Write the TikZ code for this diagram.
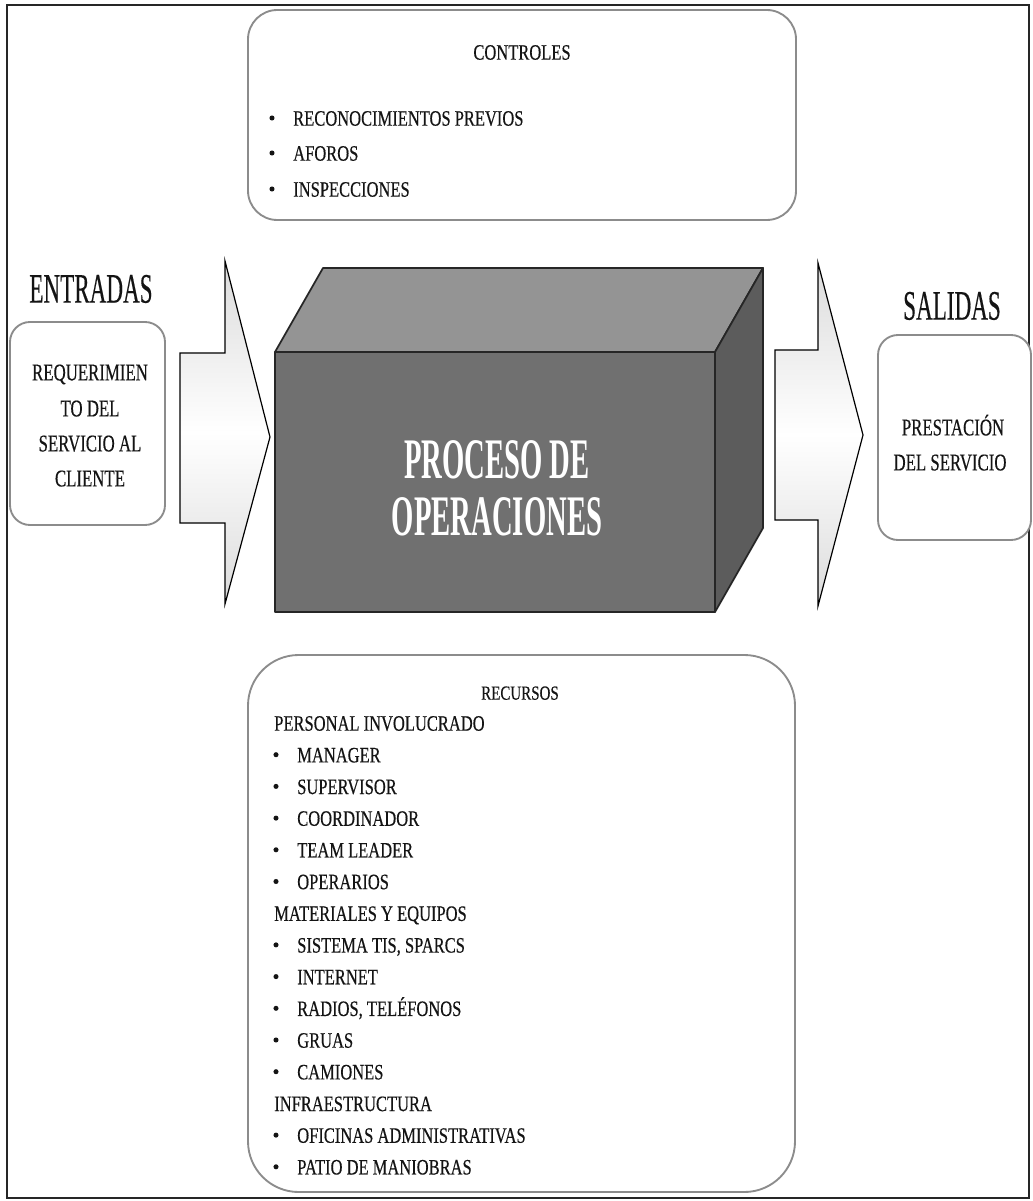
\documentclass[tikz,border=0pt]{standalone}
\usepackage{fontspec}
\setmainfont{Liberation Serif}
% condensed serif faces used across the chart
\newfontfamily\listfont[FakeStretch=0.75,FakeBold=0.35]{Liberation Serif}
\newfontfamily\boxfont[FakeStretch=0.70,FakeBold=0.35]{Liberation Serif}
\newfontfamily\headfont[FakeStretch=0.55,FakeBold=0.3]{Liberation Serif}
\newfontfamily\cubefont[FakeStretch=0.50]{Liberation Serif}
\definecolor{inkgray}{gray}{0.08}
\definecolor{rimgray}{gray}{0.55}
\definecolor{cubefront}{gray}{0.44}
\definecolor{cubetop}{gray}{0.58}
\definecolor{cubeside}{gray}{0.36}
\definecolor{arrowshade}{gray}{0.86}
\begin{document}
\begin{tikzpicture}[x=0.75pt,y=-0.75pt,
  panel/.style={draw=rimgray,line width=1.4pt,fill=white},
  listtxt/.style={font=\listfont\fontsize{16.5}{18}\selectfont,text=inkgray,
    inner sep=0pt,text height=11.5pt,text depth=0pt},
  boxtxt/.style={font=\boxfont\fontsize{18}{20}\selectfont,text=inkgray,
    inner sep=0pt,text height=12.6pt,text depth=0pt},
  headtxt/.style={font=\headfont\fontsize{31.5}{34}\selectfont,text=inkgray,
    inner sep=0pt,text height=22pt,text depth=0pt},
  cubetxt/.style={font=\cubefont\bfseries\fontsize{43}{46}\selectfont,text=white,
    inner sep=0pt,text height=30pt,text depth=0pt},
  dotb/.style={circle,fill=inkgray,inner sep=0pt,minimum size=3.8pt},
  bigarrow/.style={draw=black,line width=0.9pt,top color=arrowshade,
    bottom color=arrowshade,middle color=white,line join=miter},
  cubeface/.style={line width=1.3pt,draw=black!85,line join=round}]

\useasboundingbox (0,0) rectangle (1032,1201);
\fill[white] (0,0) rectangle (1032,1201);

% outer frame
\draw[line width=1.1pt,black!85] (7,5) rectangle (1029,1198);

% --- controls panel (top) ---
\draw[panel,rounded corners=22pt] (248,10) rectangle (796,220);
\node[listtxt] (ctitle) at (522,52) {CONTROLES};
\node[dotb] (cb1) at (272,118) {};
\node[dotb] (cb2) at (272,153) {};
\node[dotb] (cb3) at (272,189) {};
\node[listtxt,anchor=west] (c1) at (293,118) {RECONOCIMIENTOS PREVIOS};
\node[listtxt,anchor=west] (c2) at (293,153) {AFOROS};
\node[listtxt,anchor=west] (c3) at (293,189) {INSPECCIONES};

% --- inputs ---
\node[headtxt] (entradas) at (91,288) {ENTRADAS};
\draw[panel,rounded corners=15pt] (10,322) rectangle (165,525);
\node[boxtxt] (e1) at (90,372) {REQUERIMIEN};
\node[boxtxt] (e2) at (90,408) {TO DEL};
\node[boxtxt] (e3) at (90,443) {SERVICIO AL};
\node[boxtxt] (e4) at (90,478) {CLIENTE};

% block arrow into the process
\draw[bigarrow] (180,353) -- (225,353) -- (225,261) -- (270,437)
  -- (225,604) -- (225,523) -- (180,523) -- cycle;

% --- process block (box in perspective) ---
\draw[cubeface,fill=cubetop]
  (275,352) -- (323,268) -- (763,268) -- (715,352) -- cycle;
\draw[cubeface,fill=cubeside]
  (715,352) -- (763,268) -- (763,528) -- (715,612) -- cycle;
\draw[cubeface,fill=cubefront] (275,352) rectangle (715,612);
\node[cubetxt] (p1) at (497,458) {PROCESO DE};
\node[cubetxt] (p2) at (497,515) {OPERACIONES};

% block arrow out of the process
\draw[bigarrow] (775,350) -- (818,350) -- (818,263) -- (863,435)
  -- (818,606) -- (818,520) -- (775,520) -- cycle;

% --- outputs ---
\node[headtxt] (salidas) at (952,305) {SALIDAS};
\draw[panel,rounded corners=15pt] (878,335) rectangle (1031,540);
\node[boxtxt] (s1) at (953,427) {PRESTACIÓN};
\node[boxtxt] (s2) at (950,462) {DEL SERVICIO};

% --- resources panel (bottom) ---
\draw[panel,rounded corners=38pt] (248,655) rectangle (795,1192);
\node[listtxt,font=\listfont\fontsize{15}{17}\selectfont] (rtitle) at (520,692) {RECURSOS};

\node[listtxt,anchor=west] (h1) at (274,723.0) {PERSONAL INVOLUCRADO};
\node[dotb] (b1) at (276,754.7) {};
\node[listtxt,anchor=west] (r1) at (297,754.7) {MANAGER};
\node[dotb] (b2) at (276,786.4) {};
\node[listtxt,anchor=west] (r2) at (297,786.4) {SUPERVISOR};
\node[dotb] (b3) at (276,818.1) {};
\node[listtxt,anchor=west] (r3) at (297,818.1) {COORDINADOR};
\node[dotb] (b4) at (276,849.8) {};
\node[listtxt,anchor=west] (r4) at (297,849.8) {TEAM LEADER};
\node[dotb] (b5) at (276,881.5) {};
\node[listtxt,anchor=west] (r5) at (297,881.5) {OPERARIOS};

\node[listtxt,anchor=west] (h2) at (274,913.2) {MATERIALES Y EQUIPOS};
\node[dotb] (b6) at (276,944.9) {};
\node[listtxt,anchor=west] (r6) at (297,944.9) {SISTEMA TIS, SPARCS};
\node[dotb] (b7) at (276,976.6) {};
\node[listtxt,anchor=west] (r7) at (297,976.6) {INTERNET};
\node[dotb] (b8) at (276,1008.3) {};
\node[listtxt,anchor=west] (r8) at (297,1008.3) {RADIOS, TELÉFONOS};
\node[dotb] (b9) at (276,1040.0) {};
\node[listtxt,anchor=west] (r9) at (297,1040.0) {GRUAS};
\node[dotb] (b10) at (276,1071.7) {};
\node[listtxt,anchor=west] (r10) at (297,1071.7) {CAMIONES};

\node[listtxt,anchor=west] (h3) at (274,1103.4) {INFRAESTRUCTURA};
\node[dotb] (b11) at (276,1135.1) {};
\node[listtxt,anchor=west] (r11) at (297,1135.1) {OFICINAS ADMINISTRATIVAS};
\node[dotb] (b12) at (276,1166.8) {};
\node[listtxt,anchor=west] (r12) at (297,1166.8) {PATIO DE MANIOBRAS};
\end{tikzpicture}
\end{document}
